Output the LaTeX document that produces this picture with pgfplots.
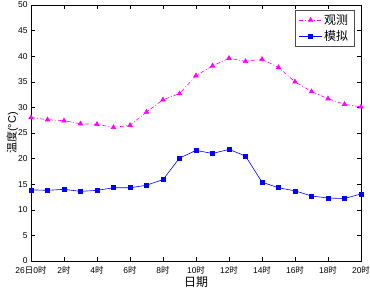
\documentclass[border=0pt]{standalone}
\usepackage{pgfplots}
\pgfplotsset{compat=1.18}
\usepackage{fontspec}
\setmainfont{Liberation Sans}
\newfontfamily\cjk{Noto Sans CJK SC}
\newcommand\zh[1]{{\cjk #1}}
\definecolor{mag}{rgb}{1,0,1}
\definecolor{blu}{rgb}{0,0,1}
\begin{document}
\begin{tikzpicture}
\begin{axis}[
  scale only axis,
  width=330bp, height=256bp,
  xmin=0, xmax=20, ymin=0, ymax=50,
  xtick={0,2,...,20},
  ytick={0,5,...,50},
  xticklabels={26\zh{日}0\zh{时},2\zh{时},4\zh{时},6\zh{时},8\zh{时},10\zh{时},12\zh{时},14\zh{时},16\zh{时},18\zh{时},20\zh{时}},
  tick align=inside,
  major tick length=4bp,
  tick style={black, line width=0.5bp},
  axis line style={line width=0.6bp},
  ticklabel style={font=\fontsize{8.5}{9}\selectfont},
  xticklabel style={yshift=-2bp},
  /pgf/number format/assume math mode=true,
  xlabel={\zh{日期}}, xlabel style={font=\fontsize{12}{13}\selectfont, yshift=4bp},
  ylabel={\zh{温度}(°C)}, ylabel style={font=\fontsize{11}{12}\selectfont, yshift=-7bp},
  legend style={at={(rel axis cs:0.98,0.98)}, anchor=north east, font=\fontsize{12}{13}\selectfont\cjk, draw=black!70, line width=0.6bp, row sep=1bp, inner xsep=4bp, inner ysep=2bp},
  legend cell align=left,
  legend image code/.code={\draw[#1] (0cm,0cm) -- (0.8cm,0cm); \draw[#1, mark repeat=2, mark phase=2] plot coordinates {(0cm,0cm) (0.4cm,0cm) (0.8cm,0cm)};},
]
\addplot[color=mag, line width=0.6bp, dash pattern=on 4bp off 2bp on 1bp off 2bp, mark=triangle*, mark size=2.6bp, mark options={solid}] coordinates {
(0,28.0)(1,27.6)(2,27.4)(3,26.8)(4,26.7)(5,26.1)(6,26.5)(7,29.1)(8,31.5)(9,32.7)
(10,36.2)(11,38.1)(12,39.6)(13,39.0)(14,39.4)(15,37.8)(16,35.0)(17,33.1)(18,31.7)(19,30.6)(20,30.1)};
\addlegendentry{观测}
\addplot[color=blu, line width=0.6bp, mark=square*, mark size=2bp] coordinates {
(0,13.9)(1,13.8)(2,14.0)(3,13.6)(4,13.8)(5,14.3)(6,14.3)(7,14.8)(8,15.9)(9,20.1)
(10,21.6)(11,21.0)(12,21.8)(13,20.5)(14,15.4)(15,14.3)(16,13.7)(17,12.7)(18,12.3)(19,12.2)(20,13.1)};
\addlegendentry{模拟}
\end{axis}
\pgfresetboundingbox
\path (-31bp,-29bp) rectangle (339bp,261bp);
\end{tikzpicture}
\end{document}
